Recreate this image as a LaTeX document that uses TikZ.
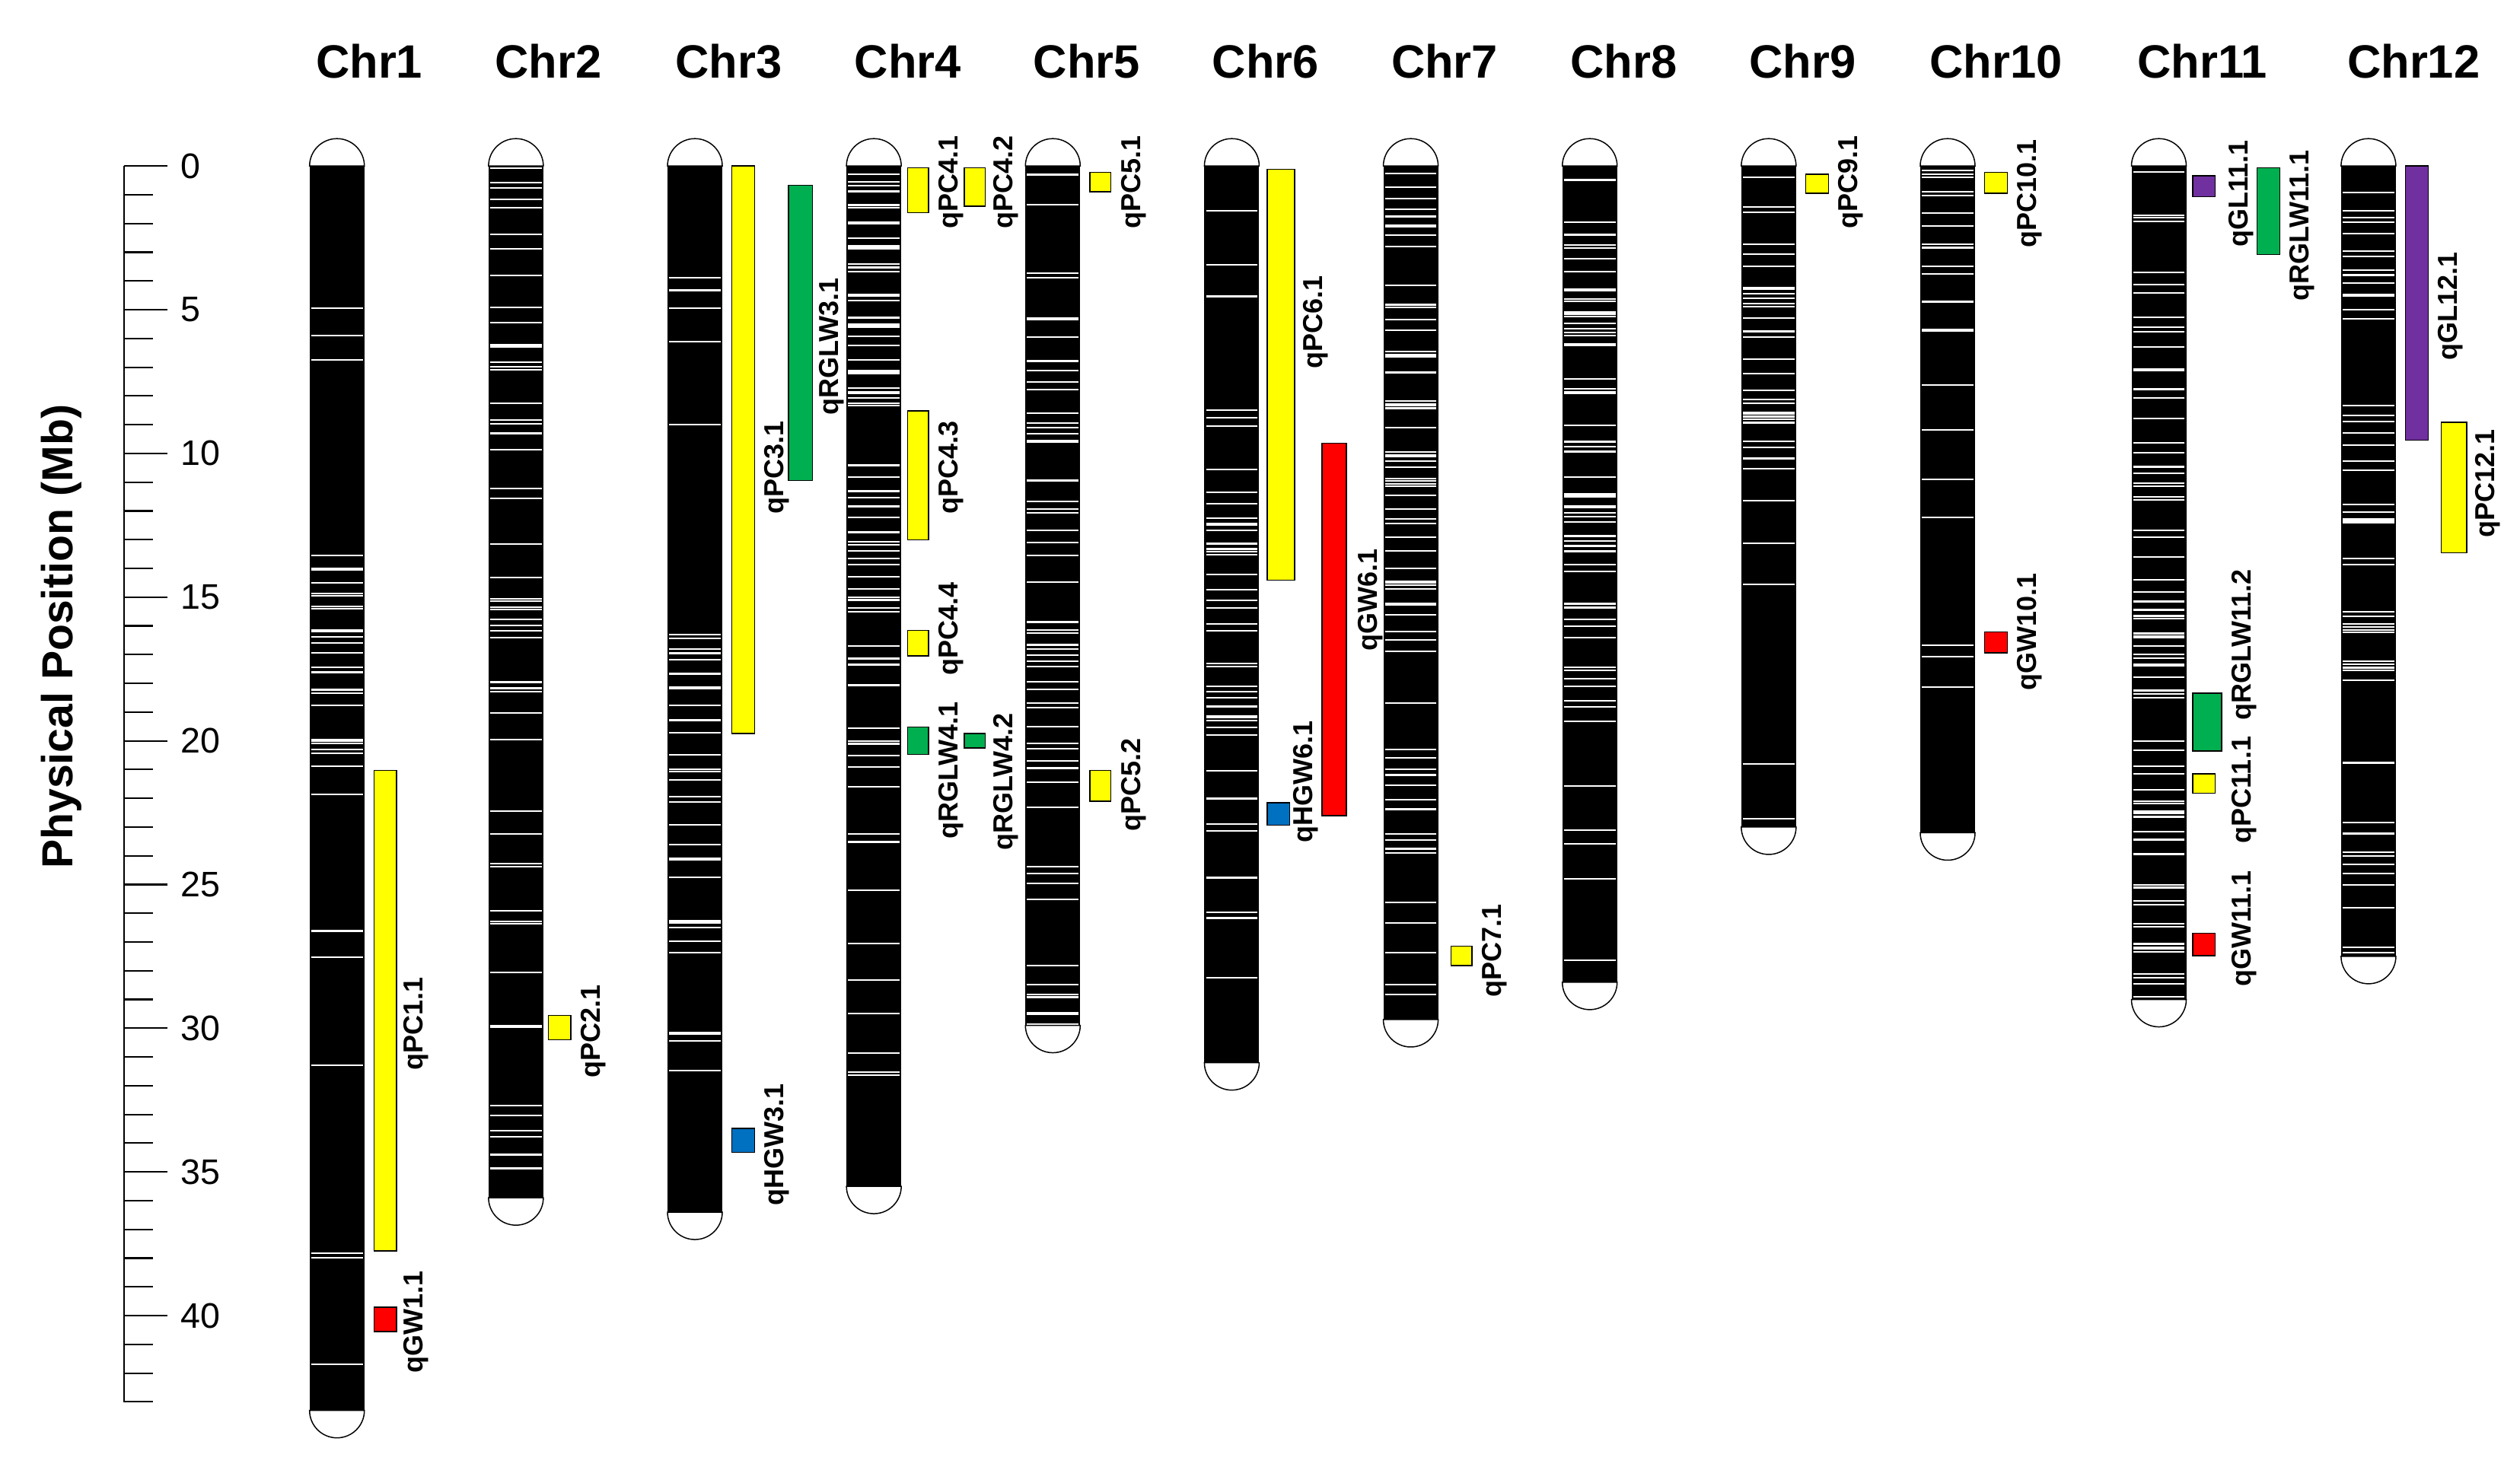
\documentclass[tikz,border=0pt]{standalone}
\usepackage{fontspec}
\setmainfont{Liberation Sans}
\definecolor{qy}{HTML}{FFFF00}\definecolor{qg}{HTML}{00B050}\definecolor{qr}{HTML}{FF0000}
\definecolor{qb}{HTML}{0070C0}\definecolor{qp}{HTML}{7030A0}
\newcommand\chrom[2]{%
 \fill[black] (#1-17,103) rectangle (#1+17,{103+17.83*#2});}
\newcommand\caps[2]{%
 \draw[fill=white,line width=0.7] (#1-17,103) arc[start angle=180,end angle=360,radius=17] -- cycle;
 \draw[fill=white,line width=0.7] (#1-17,{103+17.83*#2}) arc[start angle=180,end angle=0,radius=17] -- cycle;}
\newcommand\bands[6]{%
 \foreach \i in {1,...,#3}{\pgfmathsetmacro\p{103+17.83*(rnd*#2)}\draw[white,line width=1] (#1-16,\p) -- (#1+16,\p);}
 \foreach \i in {1,...,#6}{\pgfmathsetmacro\p{103+17.83*(#4+rnd*(#5-#4))}\draw[white,line width=1] (#1-16,\p) -- (#1+16,\p);}}
\newcommand\qtl[9]{%
 \draw[fill=#5,line width=0.7] (#1,#3) rectangle (#2,#4);
 \node[qlab] (#9) at (#6,#7) {#8};}
\begin{document}
\begin{tikzpicture}[x=1pt,y=-1pt,
 qlab/.style={rotate=90,font=\bfseries\fontsize{17}{17}\selectfont,inner sep=0pt},
 chrt/.style={font=\bfseries\fontsize{29}{29}\selectfont},
 tick/.style={font=\fontsize{22}{22}\selectfont,anchor=west,inner sep=0pt}]
\useasboundingbox (0,0) rectangle (1563,910);
\pgfmathsetseed{7}
% titles
\foreach \n/\x in {1/229,2/340,3/452,4/563,5/674,6/785,7/896,8/1007,9/1118,10/1238,11/1366,12/1497}
 \node[chrt] (t\n) at (\x,38) {Chr\n};
% axis
\draw[line width=1] (77,103) -- (77,870);
\foreach \m in {0,...,43} \draw[line width=1] (77,{103+17.83*\m}) -- (95,{103+17.83*\m});
\foreach \m in {0,5,...,40} {\draw[line width=1] (77,{103+17.83*\m}) -- (104,{103+17.83*\m});
 \node[tick] (a\m) at (112,{103+17.83*\m}) {\m};}
\node[rotate=90,font=\bfseries\fontsize{27}{27}\selectfont] (ax) at (38,395) {Physical Position (Mb)};
% chromosomes
\foreach \x/\L/\n/\a/\b/\m in {209/43.3/10/13/22/25, 320/35.9/30/0/20/25, 431/36.4/12/16/32/25,
 542/35.5/30/0/18/50, 653/29.9/30/5/22/30, 764/31.2/20/12/20/25, 875/29.7/35/0/16/35,
 986/28.4/40/3/20/25, 1097/23.0/14/0/10/25, 1208/23.2/12/0/6/12, 1339/29.0/40/15/29/40, 1469/27.5/40/0/28/15}
 {\chrom{\x}{\L}\bands{\x}{\L}{\n}{\a}{\b}{\m}\caps{\x}{\L}}
% QTLs
\qtl{232}{246}{478}{776}{qy}{258}{635}{qPC1.1}{q1}
\qtl{232}{246}{811}{826}{qr}{258}{820}{qGW1.1}{q2}
\qtl{340}{354}{630}{645}{qy}{368}{640}{qPC2.1}{q3}
\qtl{454}{468}{103}{455}{qy}{482}{290}{qPC3.1}{q4}
\qtl{489}{504}{115}{298}{qg}{516}{215}{qRGLW3.1}{q5}
\qtl{454}{468}{700}{715}{qb}{482}{710}{qHGW3.1}{q6}
\qtl{563}{576}{104}{132}{qy}{590}{113}{qPC4.1}{q7}
\qtl{598}{611}{104}{128}{qy}{624}{113}{qPC4.2}{q8}
\qtl{563}{576}{255}{335}{qy}{590}{290}{qPC4.3}{q9}
\qtl{563}{576}{391}{407}{qy}{590}{390}{qPC4.4}{q10}
\qtl{563}{576}{451}{468}{qg}{590}{478}{qRGLW4.1}{q11}
\qtl{598}{611}{455}{464}{qg}{624}{485}{qRGLW4.2}{q12}
\qtl{676}{689}{107}{119}{qy}{703}{113}{qPC5.1}{q13}
\qtl{676}{689}{478}{497}{qy}{703}{487}{qPC5.2}{q14}
\qtl{786}{803}{105}{360}{qy}{816}{200}{qPC6.1}{q15}
\qtl{820}{835}{275}{506}{qr}{850}{372}{qGW6.1}{q16}
\qtl{786}{800}{498}{512}{qb}{810}{485}{qHGW6.1}{q17}
\qtl{900}{913}{587}{599}{qy}{927}{590}{qPC7.1}{q18}
\qtl{1120}{1134}{108}{120}{qy}{1148}{113}{qPC9.1}{q19}
\qtl{1231}{1245}{107}{120}{qy}{1259}{120}{qPC10.1}{q20}
\qtl{1231}{1245}{392}{405}{qr}{1259}{392}{qGW10.1}{q21}
\qtl{1360}{1374}{109}{122}{qp}{1390}{120}{qGL11.1}{q22}
\qtl{1400}{1414}{104}{158}{qg}{1428}{140}{qRGLW11.1}{q23}
\qtl{1360}{1378}{430}{466}{qg}{1392}{400}{qRGLW11.2}{q24}
\qtl{1360}{1374}{480}{492}{qy}{1392}{490}{qPC11.1}{q25}
\qtl{1360}{1374}{579}{593}{qr}{1392}{576}{qGW11.1}{q26}
\qtl{1492}{1506}{103}{273}{qp}{1520}{190}{qGL12.1}{q27}
\qtl{1514}{1530}{262}{343}{qy}{1543}{300}{qPC12.1}{q28}
\end{tikzpicture}
\end{document}
